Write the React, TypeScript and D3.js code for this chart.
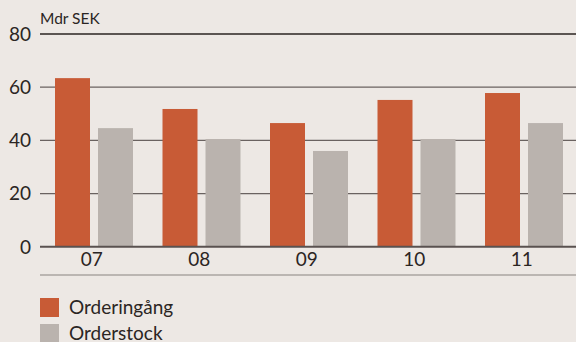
import React from "react";
import * as d3 from "d3";

const years = ["07", "08", "09", "10", "11"];
const orderingang = [63.4, 51.8, 46.5, 55.2, 57.8];
const orderstock = [44.6, 40.5, 36.0, 40.5, 46.5];
const yTicks = [0, 20, 40, 60, 80];
const seriesNames = ["Orderingång", "Orderstock"];
const seriesColors = ["#c85b36", "#bab3ae"];

const W = 576;
const H = 342;
const FONT = "Lato, 'Open Sans', sans-serif";
const TEXT = "#2b2523";

export default function App() {
  const x = d3.scaleBand<string>().domain(years).range([40, 577.5]).padding(0);
  const y = d3.scaleLinear().domain([0, 80]).range([246.7, 34]);
  const inner = d3
    .scaleBand<number>()
    .domain([0, 1])
    .range([15, 15 + 78])
    .paddingInner(8 / 43)
    .paddingOuter(0);
  const series = [orderingang, orderstock];

  return (
    <div style={{ position: "absolute", left: 0, top: 0 }}>
      <svg width={W} height={H} style={{ display: "block", background: "#ede8e4" }}>
        <rect x={0} y={0} width={W} height={H} fill="#ede8e4" />
        <text x={40} y={24} fontSize={15.5} fill={TEXT} fontFamily={FONT}>
          Mdr SEK
        </text>
        {yTicks.map((t) => (
          <g key={t}>
            {t !== 0 && (
              <line
                x1={40}
                x2={W}
                y1={y(t)}
                y2={y(t)}
                stroke={t === 80 ? "#2a2422" : "#6a6260"}
                strokeWidth={t === 80 ? 1.3 : 1.2}
              />
            )}
            <text
              x={31}
              y={y(t)}
              dy="0.36em"
              textAnchor="end"
              fontSize={19}
              fill={TEXT}
              fontFamily={FONT}
            >
              {t}
            </text>
          </g>
        ))}
        {series.map((vals, si) =>
          vals.map((v, i) => (
            <rect
              key={`${si}-${i}`}
              x={(x(years[i]) ?? 0) + (inner(si) ?? 0)}
              y={y(v)}
              width={inner.bandwidth()}
              height={y(0) - y(v)}
              fill={seriesColors[si]}
            />
          ))
        )}
        <line x1={40} x2={W} y1={y(0)} y2={y(0)} stroke="#5a5250" strokeWidth={2} />
        {years.map((yr) => (
          <text
            key={yr}
            x={(x(yr) ?? 0) + x.bandwidth() / 2 - 2}
            y={266}
            textAnchor="middle"
            fontSize={19}
            fill={TEXT}
            fontFamily={FONT}
          >
            {yr}
          </text>
        ))}
        <line x1={40} x2={W} y1={275} y2={275} stroke="#8a8380" strokeWidth={1.2} />
        {seriesNames.map((name, i) => (
          <g key={name} transform={`translate(40, ${298 + i * 26})`}>
            <rect x={0} y={0} width={19} height={19} fill={seriesColors[i]} />
            <text x={29} y={16} fontSize={19} fill={TEXT} fontFamily={FONT}>
              {name}
            </text>
          </g>
        ))}
      </svg>
    </div>
  );
}
